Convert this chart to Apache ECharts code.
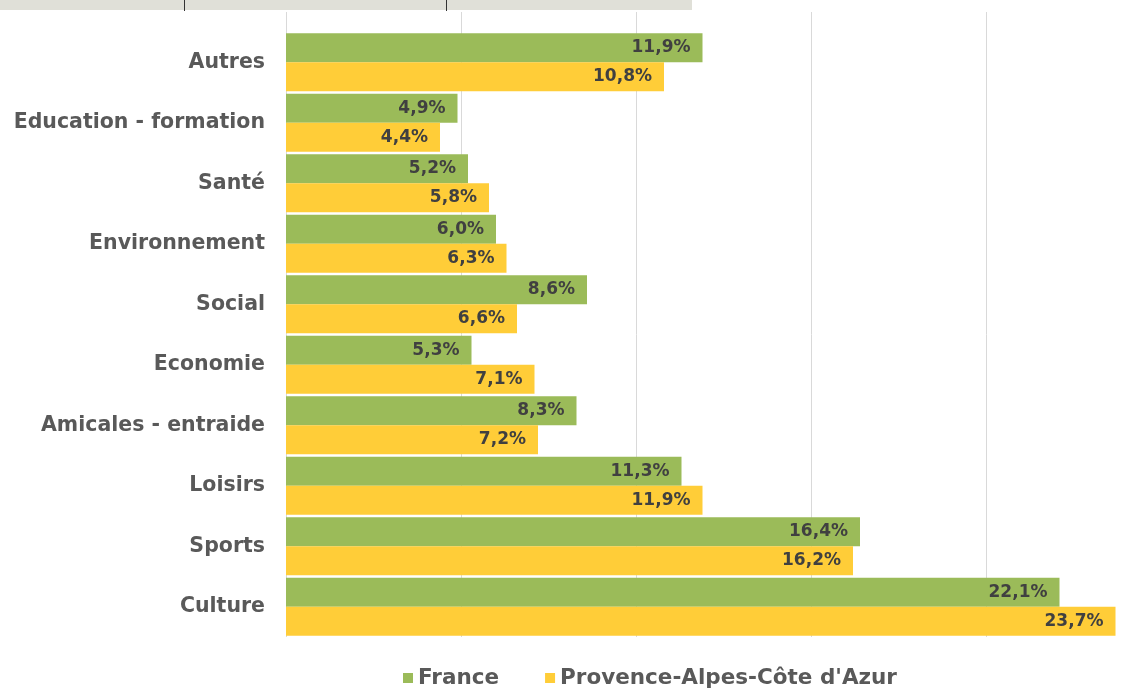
<!DOCTYPE html>
<html>
<head>
<meta charset="utf-8">
<script src="https://cdn.jsdelivr.net/npm/echarts@6/dist/echarts.min.js"></script>
<style>
  html, body { margin: 0; padding: 0; background: #fff; }
  #chart-root { width: 1126px; height: 690px; }
</style>
</head>
<body>
<div id="chart-root"></div>
<script>
// categories, top to bottom
const categories = [
  "Autres", "Education - formation", "Santé", "Environnement", "Social",
  "Economie", "Amicales - entraide", "Loisirs", "Sports", "Culture"
];
const france = [11.9, 4.9, 5.2, 6.0, 8.6, 5.3, 8.3, 11.3, 16.4, 22.1];
const paca = [10.8, 4.4, 5.8, 6.3, 6.6, 7.1, 7.2, 11.9, 16.2, 23.7];
const seriesNames = ["France", "Provence-Alpes-Côte d'Azur"];

const FONT = "DejaVu Sans";

function pct(p) {
  return p.value.toFixed(1).replace(".", ",") + "%";
}

const chart = echarts.init(document.getElementById("chart-root"));

const valueAxis = {
  type: "value",
  min: 0,
  max: 24,
  interval: 5,
  axisLabel: { show: false },
  axisLine: { show: false },
  axisTick: { show: false },
  splitLine: { lineStyle: { color: "#d9d9d9", width: 1 } }
};

const barLabel = {
  show: true,
  position: "insideRight",
  distance: 12,
  formatter: pct,
  color: "#404040",
  fontFamily: FONT,
  fontWeight: "bold",
  fontSize: 17
};

chart.setOption({
  animation: false,
  grid: [
    { left: 286, top: 32, right: 0, height: 605 },
    // thin strip so the gridlines run up above the first bars
    { left: 286, top: 12, right: 0, height: 20 }
  ],
  xAxis: [
    Object.assign({ gridIndex: 0 }, valueAxis),
    Object.assign({ gridIndex: 1 }, valueAxis)
  ],
  yAxis: [
    {
      gridIndex: 0,
      type: "category",
      inverse: true,
      data: categories,
      axisLine: { show: false },
      axisTick: { show: false },
      axisLabel: {
        margin: 21,
        color: "#595959",
        fontFamily: FONT,
        fontWeight: "bold",
        fontSize: 20.5
      }
    },
    {
      gridIndex: 1,
      type: "category",
      data: [""],
      axisLine: { show: false },
      axisTick: { show: false },
      axisLabel: { show: false }
    }
  ],
  legend: {
    left: 398,
    top: 662,
    icon: "rect",
    itemWidth: 10,
    itemHeight: 10,
    itemGap: 46,
    textStyle: {
      color: "#595959",
      fontFamily: FONT,
      fontWeight: "bold",
      fontSize: 21.5
    },
    data: seriesNames
  },
  graphic: [
    { type: "rect", shape: { x: 0, y: 0, width: 692, height: 10 }, style: { fill: "#e0e0d8" } },
    { type: "line", shape: { x1: 184.5, y1: 0, x2: 184.5, y2: 11 }, style: { stroke: "#333", lineWidth: 1 } },
    { type: "line", shape: { x1: 446.5, y1: 0, x2: 446.5, y2: 11 }, style: { stroke: "#333", lineWidth: 1 } }
  ],
  series: [
    {
      name: seriesNames[0],
      type: "bar",
      xAxisIndex: 0,
      yAxisIndex: 0,
      data: france,
      barGap: "0%",
      barCategoryGap: "4%",
      itemStyle: { color: "#9bbb59" },
      label: barLabel
    },
    {
      name: seriesNames[1],
      type: "bar",
      xAxisIndex: 0,
      yAxisIndex: 0,
      data: paca,
      barGap: "0%",
      barCategoryGap: "4%",
      itemStyle: { color: "#ffcd38" },
      label: barLabel
    }
  ]
});
window.onresize = chart.resize;
</script>
</body>
</html>
